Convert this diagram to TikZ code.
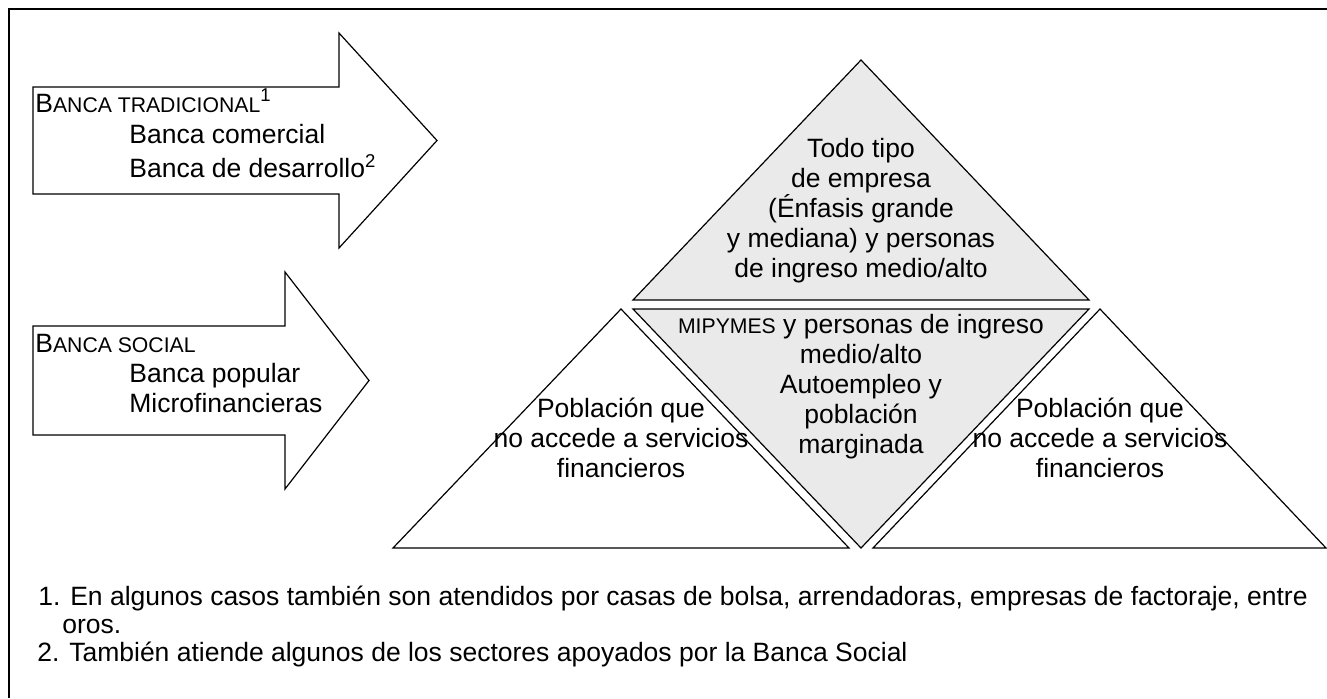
\documentclass[tikz,border=0pt]{standalone}
\usepackage{fontspec}
\setmainfont{Liberation Sans}
\usepackage{tikz}
\definecolor{gris}{RGB}{234,234,234}
\tikzstyle{flecha}=[draw=black,line width=0.6pt,fill=white,line join=miter]
\tikzstyle{piso}=[draw=black,line width=0.6pt,fill=gris]
\tikzstyle{hueco}=[draw=black,line width=0.6pt,fill=white]
\tikzstyle{texto}=[inner sep=0pt,font=\fontsize{13.25}{15}\selectfont,align=center,anchor=north]
\tikzstyle{nota}=[inner sep=0pt,font=\fontsize{13.25}{15}\selectfont,anchor=base west]
\newcommand{\versal}[1]{{\fontsize{10.6}{12}\selectfont #1}}

\begin{document}
\begin{tikzpicture}[x=0.5pt,y=-0.5pt]
        \useasboundingbox (0,0) rectangle (1327,698);
        \draw [line width=1pt] (9,698) -- (9,9) -- (1327,9);
        % flechas
        \draw [style=flecha] (33,87) -- (339,87) -- (339,33) -- (437,140.5) -- (339,248) -- (339,194) -- (33,194) -- cycle;
        \draw [style=flecha] (33,326) -- (285,326) -- (285,272) -- (369,380.5) -- (285,489) -- (285,435) -- (33,435) -- cycle;
        % piramide
        \draw [style=piso] (861,60) -- (1089,300) -- (633,300) -- cycle;
        \draw [style=piso] (633,309) -- (1089,309) -- (861,548) -- cycle;
        \draw [style=hueco] (621,309) -- (849,548) -- (393,548) -- cycle;
        \draw [style=hueco] (1100,309) -- (1326,548) -- (873,548) -- cycle;
        % textos
        \node [style=nota] (trad) at (35,112) {B\versal{ANCA TRADICIONAL}\textsuperscript{1}};
        \node [style=texto,anchor=north west,align=left] (tradl) at (129,122) {\strut Banca comercial\\Banca de desarrollo\textsuperscript{2}};
        \node [style=nota] (soc) at (35,352) {B\versal{ANCA SOCIAL}};
        \node [style=texto,anchor=north west,align=left] (socl) at (129,361) {\strut Banca popular\\Microfinancieras};
        \node [style=texto] (alto) at (861,136) {\strut Todo tipo\\de empresa\\(Énfasis grande\\y mediana) y personas\\de ingreso medio/alto};
        \node [style=texto] (medio) at (861,312) {\strut\versal{MIPYMES} y personas de ingreso\\medio/alto\\Autoempleo y\\población\\marginada};
        \node [style=texto] (izq) at (621,396) {\strut Población que\\no accede a servicios\\financieros};
        \node [style=texto] (der) at (1100,396) {\strut Población que\\no accede a servicios\\financieros};
        % notas
        \node [style=nota] (n1) at (38,605) {1. En algunos casos también son atendidos por casas de bolsa, arrendadoras, empresas de factoraje, entre};
        \node [style=nota] (n1b) at (62,633) {oros.};
        \node [style=nota] (n2) at (37,661) {2. También atiende algunos de los sectores apoyados por la Banca Social};
    \end{tikzpicture}
\end{document}
